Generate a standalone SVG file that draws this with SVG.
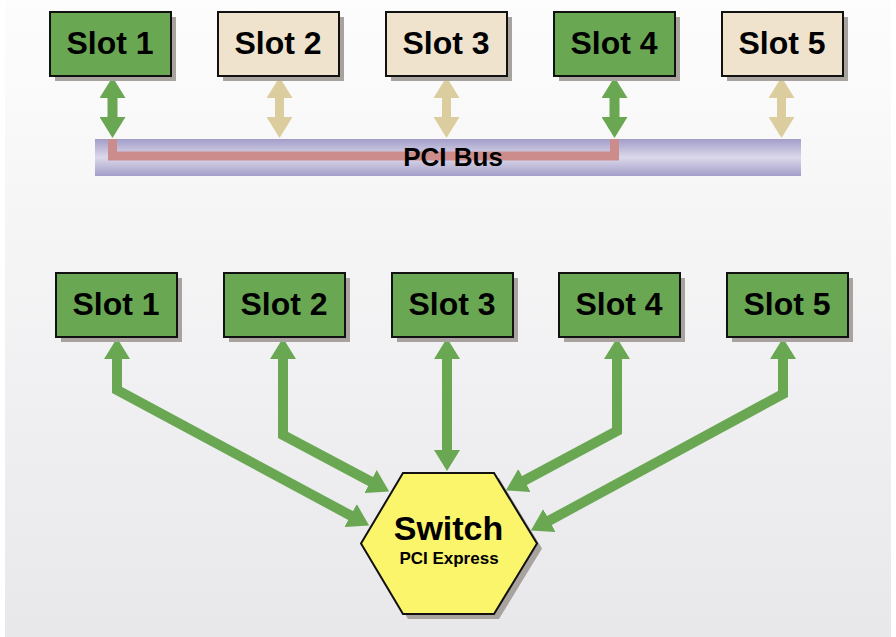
<svg xmlns="http://www.w3.org/2000/svg" width="896" height="637" viewBox="0 0 896 637">
<defs>
<linearGradient id="bg" x1="0" y1="0" x2="0" y2="1">
<stop offset="0" stop-color="#fdfdfd"/>
<stop offset="1" stop-color="#e8e7ea"/>
</linearGradient>
<linearGradient id="bus" x1="0" y1="0" x2="0" y2="1">
<stop offset="0" stop-color="#a29ec9"/>
<stop offset="0.5" stop-color="#dcd8ea"/>
<stop offset="1" stop-color="#a29ec9"/>
</linearGradient>
<marker id="hg" viewBox="0 0 21 26" refX="1" refY="13" markerWidth="21" markerHeight="26" markerUnits="userSpaceOnUse" orient="auto-start-reverse">
<path d="M0,0 L21,13 L0,26 Z" fill="#6aa753"/>
</marker>
<marker id="ht" viewBox="0 0 21 26" refX="1" refY="13" markerWidth="21" markerHeight="26" markerUnits="userSpaceOnUse" orient="auto-start-reverse">
<path d="M0,0 L21,13 L0,26 Z" fill="#dccd9f"/>
</marker>
</defs>
<style>
.shadow{fill:#a8a39e}
.g{fill:#6aa753;stroke:#111;stroke-width:2}
.t{fill:#efe3cd;stroke:#111;stroke-width:2}
.lbl{font-family:"Liberation Sans",Arial,sans-serif;font-weight:bold;font-size:32px;fill:#000;text-anchor:middle}
.ag{fill:none;stroke:#6aa753;stroke-width:10;stroke-linejoin:miter}
.at{fill:none;stroke:#dccd9f;stroke-width:9}
</style>
<rect x="0" y="0" width="896" height="637" fill="#ffffff"/>
<rect x="5" y="0" width="886" height="637" fill="url(#bg)"/>

<g id="pci-bus">
<rect x="95" y="139" width="706" height="37" fill="url(#bus)"/>
<path d="M112.5,139 V156 H614.5 V139" fill="none" stroke="#cd8c8c" stroke-width="9"/>
<text x="453" y="166" class="lbl" style="font-size:26px">PCI Bus</text>
</g>

<g id="connectors">
<line class="ag" x1="112.5" y1="97" x2="112.5" y2="118" marker-start="url(#hg)" marker-end="url(#hg)"/>
<line class="at" x1="279.5" y1="97" x2="279.5" y2="118" marker-start="url(#ht)" marker-end="url(#ht)"/>
<line class="at" x1="446.5" y1="97" x2="446.5" y2="118" marker-start="url(#ht)" marker-end="url(#ht)"/>
<line class="ag" x1="614.5" y1="97" x2="614.5" y2="118" marker-start="url(#hg)" marker-end="url(#hg)"/>
<line class="at" x1="781.5" y1="97" x2="781.5" y2="118" marker-start="url(#ht)" marker-end="url(#ht)"/>

<polyline class="ag" points="117,358 117,390 351.5,516" marker-start="url(#hg)" marker-end="url(#hg)"/>
<polyline class="ag" points="283,358 283,435 371.5,482" marker-start="url(#hg)" marker-end="url(#hg)"/>
<line class="ag" x1="447" y1="358" x2="447" y2="451" marker-start="url(#hg)" marker-end="url(#hg)"/>
<polyline class="ag" points="617,358 617,431 523.5,481" marker-start="url(#hg)" marker-end="url(#hg)"/>
<polyline class="ag" points="783,358 783,394 548.5,521" marker-start="url(#hg)" marker-end="url(#hg)"/>
</g>

<g id="top-slot1">
<rect class="shadow" x="55" y="17" width="121" height="64"/>
<rect class="g" x="50" y="12" width="121" height="64"/>
<text class="lbl" x="110" y="54">Slot 1</text>
</g>
<g id="top-slot2">
<rect class="shadow" x="223" y="17" width="121" height="64"/>
<rect class="t" x="218" y="12" width="121" height="64"/>
<text class="lbl" x="278" y="54">Slot 2</text>
</g>
<g id="top-slot3">
<rect class="shadow" x="391" y="17" width="121" height="64"/>
<rect class="t" x="386" y="12" width="121" height="64"/>
<text class="lbl" x="446" y="54">Slot 3</text>
</g>
<g id="top-slot4">
<rect class="shadow" x="559" y="17" width="121" height="64"/>
<rect class="g" x="554" y="12" width="121" height="64"/>
<text class="lbl" x="614" y="54">Slot 4</text>
</g>
<g id="top-slot5">
<rect class="shadow" x="727" y="17" width="121" height="64"/>
<rect class="t" x="722" y="12" width="121" height="64"/>
<text class="lbl" x="782" y="54">Slot 5</text>
</g>

<g id="bottom-slot1">
<rect class="shadow" x="61" y="278" width="121" height="64"/>
<rect class="g" x="56" y="273" width="121" height="64"/>
<text class="lbl" x="116" y="315">Slot 1</text>
</g>
<g id="bottom-slot2">
<rect class="shadow" x="229" y="278" width="121" height="64"/>
<rect class="g" x="224" y="273" width="121" height="64"/>
<text class="lbl" x="284" y="315">Slot 2</text>
</g>
<g id="bottom-slot3">
<rect class="shadow" x="397" y="278" width="121" height="64"/>
<rect class="g" x="392" y="273" width="121" height="64"/>
<text class="lbl" x="452" y="315">Slot 3</text>
</g>
<g id="bottom-slot4">
<rect class="shadow" x="564" y="278" width="121" height="64"/>
<rect class="g" x="559" y="273" width="121" height="64"/>
<text class="lbl" x="619" y="315">Slot 4</text>
</g>
<g id="bottom-slot5">
<rect class="shadow" x="732" y="278" width="121" height="64"/>
<rect class="g" x="727" y="273" width="121" height="64"/>
<text class="lbl" x="787" y="315">Slot 5</text>
</g>

<g id="switch">
<polygon class="shadow" points="408,478 499,478 542,548.5 499,619 408,619 366,548.5"/>
<polygon points="403,473 494,473 537,543.5 494,614 403,614 361,543.5" fill="#fbf56c" stroke="#111" stroke-width="2"/>
<text class="lbl" x="448.5" y="540" style="font-size:34px">Switch</text>
<text class="lbl" x="449" y="564" style="font-size:17px">PCI Express</text>
</g>
</svg>
